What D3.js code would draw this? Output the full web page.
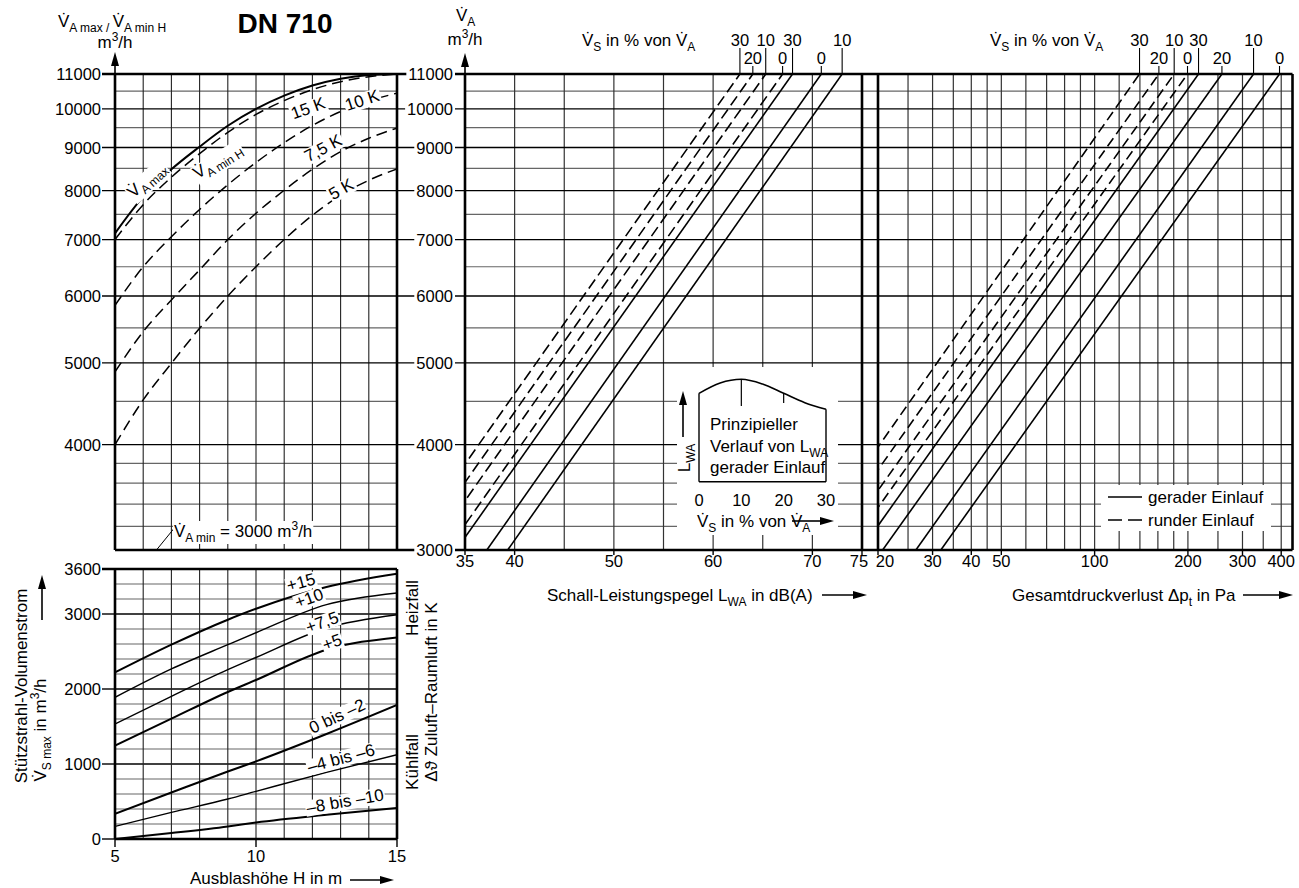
<!DOCTYPE html>
<html><head><meta charset="utf-8">
<script src="https://cdn.jsdelivr.net/npm/d3@7"></script>
<style>
body{margin:0;background:#fff}
text{font-family:"Liberation Sans",Arial,sans-serif;font-size:17px;fill:#000}
</style>
</head><body>
<svg id="c" width="1299" height="888"></svg>
<script>
// ---------------- DATA ----------------
// top-left: V_A max / V_A min H versus outlet height H
const heightsTop = [5,6,7,8,9,10,11,12,13,14,15];
const vaMax   = [7120,7870,8480,9020,9550,10000,10370,10660,10860,10970,11000];
const vaMin15 = [7000,7700,8300,8850,9380,9850,10230,10540,10770,10920,11000];
const vaMin10 = [5850,6500,7055,7600,8130,8640,9120,9560,9930,10220,10440];
const vaMin75 = [4880,5445,5937,6444,7000,7521,8010,8480,8900,9230,9490];
const vaMin5  = [4000,4519,4994,5495,6000,6500,7000,7480,7900,8230,8490];

// bottom-left: V_S max versus H for delta theta
const heightsBot = [5,7,9,10,12.5,15];
const vsP15  = [2221,2591,2924,3070,3360,3537];
const vsP10  = [1888,2267,2591,2750,3124,3280];
const vsP75  = [1533,1902,2257,2420,2813,2990];
const vsP5   = [1244,1604,1960,2120,2524,2688];
const vs0m2  = [337,620,900,1035,1400,1787];
const vsM4m6 = [168,355,533,635,888,1124];
const vsM8m10= [0,80,168,221,324,413];
const vsLabels = ["+15","+10","+7,5","+5","0 bis \u20132","\u20134 bis \u20136","\u20138 bis \u201310"];

// middle: sound power level lines (L_WA at 3000 and at 11000 m3/h)
const midDashedPct = [30,20,10,0];
const midDashedL3000 = [28.9,30.2,31.5,33.2];
const midDashedL11000 = [62.7,64.0,65.3,67.0];
const midSolidPct = [30,0,10];
const midSolidL3000 = [34.1,37.2,39.3];
const midSolidL11000 = [68.0,70.9,73.0];
const midLabelRow = {d30:0,d20:1,d10:0,d0:1,s30:0,s0:1,s10:0};

// right: pressure loss lines (dp at 3000 and at 11000 m3/h)
const dpDashedPct = [30,20,10,0];
const dpDashedP3000 = [11.7,13.1,14.6,15.96];
const dpDashedP11000 = [139.6,161.2,180.6,199.4];
const dpSolidPct = [30,20,10,0];
const dpSolidP3000 = [17.6,20.7,26.5,31.9];
const dpSolidP11000 = [216.4,257.5,325.7,395];
const dpLabelRow = {d30:0,d20:1,d10:0,d0:1,s30:0,s20:1,s10:0,s0:1};

// inset: principle curve of L_WA over V_S share (relative)
const insetPct = [0,5,10,15,20,25,30];
const insetRel = [86.3,96.4,100,95.4,86.3,77.2,70.7];

// ticks / grids
const vMajor = [3000,4000,5000,6000,7000,8000,9000,10000,11000];
const vMinor = [3200,3400,3600,3800,4500,5500,6500,7500,8500,9500,10500];
const vLeftLabels = [4000,5000,6000,7000,8000,9000,10000,11000];
const hGrid = [6,7,8,9,10,11,12,13,14];
const hTicks = [5,10,15];
const sMajor = [0,1000,2000,3000,3600];
const sGridMajor = [1000,2000,3000];
const sMinor = [200,400,600,800,1200,1400,1600,1800,2200,2400,2600,2800,3200,3400];
const lwaGrid = [40,45,50,55,60,65,70];
const lwaTicks = [35,40,50,60,70,75];
const dpGrid = [25,30,35,40,45,50,60,70,80,90,100,120,140,160,180,200,250,300,350,400];
const dpTicks = [20,30,40,50,100,200,300,400];
const insetTicks = [0,10,20,30];

// ---------------- SCALES ----------------
const yV = d3.scaleLog().domain([3000,11000]).range([550,74]);
const xH = d3.scaleLinear().domain([5,15]).range([115,397]);
const yS = d3.scaleLinear().domain([0,3600]).range([839,569]);
const xL = d3.scaleLinear().domain([35,75]).range([465,862]);
const xP = d3.scaleLog().domain([20,435]).range([878,1292.5]);
const xI = d3.scaleLinear().domain([0,30]).range([699,826]);
const yI = d3.scaleLinear().domain([0,100]).range([481.7,379.3]);

const NUM = 16.5;
const svg = d3.select('#c');
const defs = svg.append('defs');
function clip(id,x,y,w,h){defs.append('clipPath').attr('id',id).append('rect').attr('x',x).attr('y',y).attr('width',w).attr('height',h);}
clip('cTL',115,74,282,476);
clip('cBL',115,569,282,270);
clip('cM',465,74,397,476);
clip('cR',878,74,414.5,476);

function ln(g,x1,y1,x2,y2,w,c,dash){
  const l=g.append('line').attr('x1',x1).attr('y1',y1).attr('x2',x2).attr('y2',y2)
   .attr('stroke',c||'#000').attr('stroke-width',w||1);
  if(dash) l.attr('stroke-dasharray',dash);
  return l;
}
function arrowUp(g,x,y1,y2){
  ln(g,x,y1,x,y2+10,1.6);
  g.append('path').attr('d',`M${x-4},${y2+14}L${x},${y2}L${x+4},${y2+14}Z`).attr('fill','#000');
}
function arrowRight(g,x1,x2,y){
  ln(g,x1,y,x2-10,y,1.6);
  g.append('path').attr('d',`M${x2-14},${y-4}L${x2},${y}L${x2-14},${y+4}Z`).attr('fill','#000');
}
const VD='V\u0307';
function rich(g,x,y,parts,anchor,size){
  size=size||17;
  const t=g.append('text').attr('x',x).attr('y',y).attr('text-anchor',anchor||'start').style('font-size',size+'px');
  let shift=0;
  parts.forEach(([s,tp])=>{
    const sp=t.append('tspan').text(s);
    let target=0, fs=size;
    if(tp==='sub'){target=Math.round(size*0.28);fs=Math.round(size*0.7);}
    if(tp==='sup'){target=-Math.round(size*0.42);fs=Math.round(size*0.7);}
    sp.attr('dy',target-shift).style('font-size',fs+'px');
    shift=target;
  });
  return t;
}
function bg(t,pad){
  pad=pad||1.5;
  const b=t.node().getBBox();
  d3.select(t.node().parentNode).insert('rect',()=>t.node())
    .attr('x',b.x-pad).attr('y',b.y+2).attr('width',b.width+2*pad).attr('height',b.height-3).attr('fill','#fff');
}
function num(g,x,y,v,anchor){
  return g.append('text').attr('x',x).attr('y',y).attr('text-anchor',anchor||'middle').style('font-size',NUM+'px').text(v);
}

const G=svg.append('g');

// ---------------- GRID ----------------
const gl=G.append('g');
vMinor.forEach(v=>{ ln(gl,115,yV(v),397,yV(v),1.2,'#666'); ln(gl,465,yV(v),1292.5,yV(v),1.2,'#666'); });
hGrid.forEach(h=>ln(gl,xH(h),74,xH(h),550,1.1,'#222'));
lwaGrid.forEach(l=>ln(gl,xL(l),74,xL(l),550,1.2,'#333'));
dpGrid.forEach(p=>ln(gl,xP(p),74,xP(p),550,1.2,'#333'));
vMajor.forEach(v=>{
  if(v===11000||v===3000) return;
  ln(gl,102,yV(v),1292.5,yV(v),1.4,'#000');
});
sMinor.forEach(s=>ln(gl,115,yS(s),397,yS(s),1.2,'#666'));
sGridMajor.forEach(s=>ln(gl,115,yS(s),397,yS(s),1.4,'#000'));
hGrid.forEach(h=>ln(gl,xH(h),569,xH(h),839,1.1,'#222'));

// borders + ticks
const gb=G.append('g');
ln(gb,102,yV(11000),1292.5,yV(11000),2.6);
ln(gb,115,yV(3000),1292.5,yV(3000),2.6);
[115,397].forEach(x=>ln(gb,x,74,x,550,2.6));
[465,862,878,1292.5].forEach(x=>ln(gb,x,74,x,550,2.6));
ln(gb,102,569,397,569,2.6); ln(gb,115,839,397,839,2.6);
[115,397].forEach(x=>ln(gb,x,569,x,839,2.6));
sMajor.forEach(s=>ln(gb,102,yS(s),115,yS(s),1.4));
hTicks.forEach(h=>ln(gb,xH(h),839,xH(h),847,1.4));
lwaTicks.forEach(l=>ln(gb,xL(l),550,xL(l),555,1.4));
dpTicks.forEach(p=>ln(gb,xP(p),550,xP(p),555,1.4));

// ---------------- TOP-LEFT CURVES ----------------
const gTL=G.append('g').attr('clip-path','url(#cTL)');
const lineTL=d3.line().x((d,i)=>xH(heightsTop[i])).y(d=>yV(d)).curve(d3.curveMonotoneX);
gTL.append('path').attr('d',lineTL(vaMax)).attr('fill','none').attr('stroke','#000').attr('stroke-width',2);
[vaMin15,vaMin10,vaMin75,vaMin5].forEach(s=>gTL.append('path').attr('d',lineTL(s)).attr('fill','none')
  .attr('stroke','#000').attr('stroke-width',1.5).attr('stroke-dasharray','11,6'));

function rotLabel(g,cx,cy,ang,parts,size){
  const gg=g.append('g').attr('transform',`translate(${cx},${cy}) rotate(${ang})`);
  const t=rich(gg,0,6,parts,'middle',size);
  bg(t,1);
  return gg;
}
rotLabel(G,308,108,-20,[['15 K','n']]);
rotLabel(G,362,100,-18,[['10 K','n']]);
rotLabel(G,323,148,-28,[['7,5 K','n']]);
rotLabel(G,341,189,-30,[['5 K','n']]);
rotLabel(G,146,179,-42,[[VD,'n'],['A max','sub']]);
rotLabel(G,217,160,-32,[[VD,'n'],['A min H','sub']]);
ln(G,xH(6.47),yV(3000),xH(7.12),yV(3190),1);
{const t=rich(G,174,537,[[VD,'n'],['A min','sub'],[' = 3000 m','n'],['3','sup'],['/h','n']]); bg(t,1);}

// ---------------- BOTTOM-LEFT CURVES ----------------
const gBL=G.append('g').attr('clip-path','url(#cBL)');
const lineBL=d3.line().x((d,i)=>xH(heightsBot[i])).y(d=>yS(d)).curve(d3.curveMonotoneX);
const vsSeries=[vsP15,vsP10,vsP75,vsP5,vs0m2,vsM4m6,vsM8m10];
const vsWidth=[2,1.4,1.4,2,2,1.4,2];
vsSeries.forEach((s,i)=>gBL.append('path').attr('d',lineBL(s)).attr('fill','none').attr('stroke','#000').attr('stroke-width',vsWidth[i]));
const vsLabPos=[[301,582,-15],[309,598,-20],[322,622,-20],[332,642,-20],[337,716,-25],[341,758,-15],[345,801,-10]];
vsLabels.forEach((s,i)=>rotLabel(G,vsLabPos[i][0],vsLabPos[i][1],vsLabPos[i][2],[[s,'n']]));

// ---------------- MIDDLE LINES ----------------
const gM=G.append('g').attr('clip-path','url(#cM)');
midDashedPct.forEach((p,i)=>ln(gM,xL(midDashedL3000[i]),yV(3000),xL(midDashedL11000[i]),yV(11000),1.6,'#000','11,5'));
midSolidPct.forEach((p,i)=>ln(gM,xL(midSolidL3000[i]),yV(3000),xL(midSolidL11000[i]),yV(11000),1.6,'#000'));
// ---------------- RIGHT LINES ----------------
const gR=G.append('g').attr('clip-path','url(#cR)');
dpDashedPct.forEach((p,i)=>ln(gR,xP(dpDashedP3000[i]),yV(3000),xP(dpDashedP11000[i]),yV(11000),1.6,'#000','10,5'));
dpSolidPct.forEach((p,i)=>ln(gR,xP(dpSolidP3000[i]),yV(3000),xP(dpSolidP11000[i]),yV(11000),1.6,'#000'));

function topLabels(pcts,vals,scale,prefix,rows){
  pcts.forEach((p,i)=>{
    const x=scale(vals[i]); const r=rows[prefix+p];
    const yb = r===0?46:64;
    num(G,x,yb,p);
    ln(G,x,yb+2,x,74,1.1);
  });
}
topLabels(midDashedPct,midDashedL11000,xL,'d',midLabelRow);
topLabels(midSolidPct,midSolidL11000,xL,'s',midLabelRow);
topLabels(dpDashedPct,dpDashedP11000,xP,'d',dpLabelRow);
topLabels(dpSolidPct,dpSolidP11000,xP,'s',dpLabelRow);
rich(G,582,46,[[VD,'n'],['S','sub'],[' in % von '+VD,'n'],['A','sub']]);
rich(G,990,46,[[VD,'n'],['S','sub'],[' in % von '+VD,'n'],['A','sub']]);

// ---------------- AXIS LABELS ----------------
vLeftLabels.forEach(v=>num(G,101,yV(v)+6,v,'end'));
vMajor.forEach(v=>{const t=num(G,453,yV(v)+6,v,'end'); bg(t,2);});
sMajor.forEach(s=>num(G,101,yS(s)+6,s,'end'));
hTicks.forEach(h=>num(G,xH(h),862,h));
const lwaNudge={75:-3};
lwaTicks.forEach(l=>num(G,xL(l)+(lwaNudge[l]||0),567,l));
const dpNudge={20:7};
dpTicks.forEach(p=>num(G,xP(p)+(dpNudge[p]||0),567,p));

// titles
G.append('text').attr('x',285).attr('y',33).attr('text-anchor','middle').style('font-size','28px').style('font-weight','bold').text('DN 710');
rich(G,58,27,[[VD,'n'],['A max / ','sub'],[VD,'n'],['A min H','sub']]);
rich(G,115,48,[['m','n'],['3','sup'],['/h','n']],'middle');
arrowUp(G,115,74,52);
rich(G,456,21,[[VD,'n'],['A','sub']]);
rich(G,465,45,[['m','n'],['3','sup'],['/h','n']],'middle');
arrowUp(G,465,74,53);
rich(G,547,601,[['Schall-Leistungspegel L','n'],['WA','sub'],[' in dB(A)','n']]);
arrowRight(G,822,867,595);
rich(G,1012,601,[['Gesamtdruckverlust \u0394p','n'],['t','sub'],[' in Pa','n']]);
arrowRight(G,1243,1293,595);

{const g=G.append('g').attr('transform','translate(27,686) rotate(-90)'); rich(g,0,0,[['St\u00fctzstrahl-Volumenstrom','n']],'middle');}
{const g=G.append('g').attr('transform','translate(46,730) rotate(-90)'); rich(g,0,0,[[VD,'n'],['S max','sub'],[' in m','n'],['3','sup'],['/h','n']],'middle');}
arrowUp(G,42,620,575);
{const g=G.append('g').attr('transform','translate(418,608) rotate(-90)'); rich(g,0,0,[['Heizfall','n']],'middle');}
{const g=G.append('g').attr('transform','translate(418,762) rotate(-90)'); rich(g,0,0,[['K\u00fchlfall','n']],'middle');}
{const g=G.append('g').attr('transform','translate(437,692) rotate(-90)'); rich(g,0,0,[['\u0394\u03d1 Zuluft\u2013Raumluft in K','n']],'middle');}
rich(G,190,884,[['Ausblash\u00f6he H in m','n']]);
arrowRight(G,350,394,880);

// ---------------- INSET ----------------
const gI=G.append('g');
gI.append('rect').attr('x',677).attr('y',367).attr('width',161).attr('height',168).attr('fill','#fff');
const lineI=d3.line().x((d,i)=>xI(insetPct[i])).y(d=>yI(d)).curve(d3.curveMonotoneX);
gI.append('path').attr('d',lineI(insetRel)).attr('fill','none').attr('stroke','#000').attr('stroke-width',1.6);
ln(gI,xI(0),yI(insetRel[0]),xI(0),yI(0),1.4);
ln(gI,xI(30),yI(insetRel[6]),xI(30),yI(0),1.4);
ln(gI,xI(0),yI(0),xI(30),yI(0),1.4);
ln(gI,xI(10),yI(100),xI(10),406,1.2);
ln(gI,xI(20),yI(86.3),xI(20),403,1.2);
rich(gI,710,430,[['Prinzipieller','n']]);
rich(gI,710,452,[['Verlauf von L','n'],['WA','sub']]);
rich(gI,710,473,[['gerader Einlauf','n']]);
insetTicks.forEach(t=>num(gI,xI(t),506,t));
rich(gI,697,527,[[VD,'n'],['S','sub'],[' in % von '+VD,'n'],['A','sub']]);
arrowRight(gI,792,834,521);
arrowUp(gI,683,437,391);
{const g=gI.append('g').attr('transform','translate(690,458) rotate(-90)'); rich(g,0,0,[['L','n'],['WA','sub']],'middle');}

// ---------------- LEGEND ----------------
const gL=G.append('g');
gL.append('rect').attr('x',1101).attr('y',485).attr('width',170).attr('height',46).attr('fill','#fff');
ln(gL,1108,497,1142,497,1.6);
ln(gL,1108,520,1142,520,1.6,'#000','14,6');
gL.append('text').attr('x',1148).attr('y',503).text('gerader Einlauf');
gL.append('text').attr('x',1148).attr('y',526).text('runder Einlauf');
</script>
</body></html>
